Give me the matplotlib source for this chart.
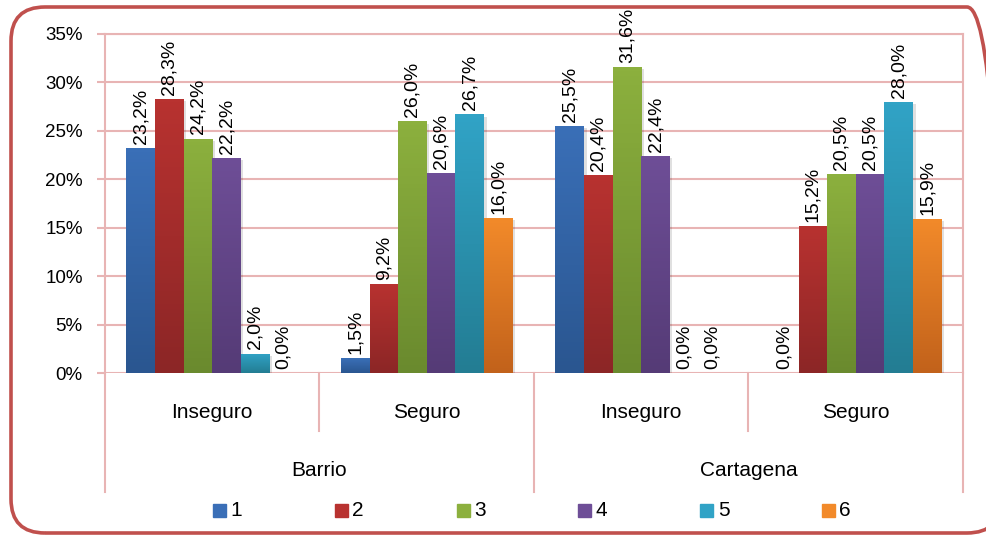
import numpy as np
import matplotlib
matplotlib.use("Agg")
import matplotlib.pyplot as plt
from matplotlib.colors import LinearSegmentedColormap
from matplotlib.patches import FancyBboxPatch, Rectangle
from matplotlib.transforms import IdentityTransform, blended_transform_factory

plt.rcParams['font.family'] = ['Liberation Sans', 'DejaVu Sans']

# data
groups = ["Barrio", "Cartagena"]
subgroups = ["Inseguro", "Seguro", "Inseguro", "Seguro"]
series = ["1", "2", "3", "4", "5", "6"]
values = np.array([
    [23.2, 1.5, 25.5, 0.0],    # 1
    [28.3, 9.2, 20.4, 15.2],   # 2
    [24.2, 26.0, 31.6, 20.5],  # 3
    [22.2, 20.6, 22.4, 20.5],  # 4
    [2.0, 26.7, 0.0, 28.0],    # 5
    [0.0, 16.0, 0.0, 15.9],    # 6
])
top_colors = ["#3a6fb7", "#b83230", "#8cb03e", "#6e4e97", "#31a3c6", "#f28a2a"]
bot_colors = ["#2a5690", "#8c2626", "#6a8a2e", "#553b76", "#237d93", "#c2621b"]

W, H = 987, 535
fig = plt.figure(figsize=(W / 100, H / 100), dpi=100)
ax = fig.add_axes([105 / W, 1 - 373 / H, (963 - 105) / W, (373 - 34) / H])

grid_c = "#e8b4b4"
n = len(series)
x = np.arange(len(subgroups))
bw = 0.8 / n
grad = np.linspace(0, 1, 64).reshape(-1, 1)
for i, name in enumerate(series):
    xs = x - 0.4 + bw * (i + 0.5)
    cmap = LinearSegmentedColormap.from_list("g%d" % i, [bot_colors[i], top_colors[i]])
    # soft shadow
    for xx, v in zip(xs, values[i]):
        if v > 0:
            ax.add_patch(Rectangle((xx - bw / 2 + 0.012, -0.25), bw, v, color="black",
                                   alpha=0.12, lw=0, zorder=2))
    bars = ax.bar(xs, values[i], bw, color=top_colors[i], zorder=3, label=name)
    for b, v in zip(bars, values[i]):
        if v > 0:
            im = ax.imshow(grad, cmap=cmap, origin="lower", aspect="auto",
                           extent=(b.get_x(), b.get_x() + bw, 0, v), zorder=3.5)
            im.set_clip_path(b)
    for xx, v in zip(xs, values[i]):
        ax.annotate(("%.1f%%" % v).replace(".", ","), (xx, v), xytext=(0, 3),
                    textcoords="offset points", rotation=90, ha="center", va="bottom",
                    fontsize=14, zorder=5)

ax.set_xlim(-0.5, len(subgroups) - 0.5)
ax.set_ylim(0, 35)
ax.set_yticks(np.arange(0, 36, 5))
ax.set_yticklabels(["%d%%" % t for t in range(0, 36, 5)], fontsize=13.5)
ax.set_xticks([])
ax.grid(axis="y", color=grid_c, lw=1.5, zorder=0)
ax.tick_params(axis="y", length=6, width=1.5, color=grid_c, pad=10)
for s in ["left", "right", "top"]:
    ax.spines[s].set_color(grid_c)
    ax.spines[s].set_linewidth(1.5)
ax.spines["bottom"].set_visible(False)

# two-level category axis
tr = blended_transform_factory(ax.transData, fig.transFigure)
for k, lab in enumerate(subgroups):
    ax.text(k, 1 - 412 / H, lab, transform=tr, ha="center", va="center", fontsize=15)
for g, lab in enumerate(groups):
    ax.text(2 * g + 0.5, 1 - 470 / H, lab, transform=tr, ha="center", va="center",
            fontsize=15)
for k in range(len(subgroups) + 1):
    sep = k - 0.5
    y_end = 1 - (492 if k % 2 == 0 else 431) / H
    ax.plot([sep, sep], [1 - 373 / H, y_end], transform=tr, color=grid_c, lw=1.5,
            clip_on=False)

# legend
for i, name in enumerate(series):
    cx = 219.5 + 121.8 * i
    fig.patches.append(Rectangle((cx - 6.5, H - 510 - 6.5), 13, 13, color=top_colors[i],
                                 transform=IdentityTransform(), figure=fig))
    fig.text((cx + 11) / W, 1 - 511 / H, name, ha="left", va="center", fontsize=15)

# rounded border
fig.patches.append(FancyBboxPatch((11, 2), 990, H - 9, boxstyle="round,pad=0,rounding_size=34",
                                  fill=False, ec="#c0504d", lw=2.6,
                                  transform=IdentityTransform(), figure=fig))

fig.savefig("out.png", dpi=100)
